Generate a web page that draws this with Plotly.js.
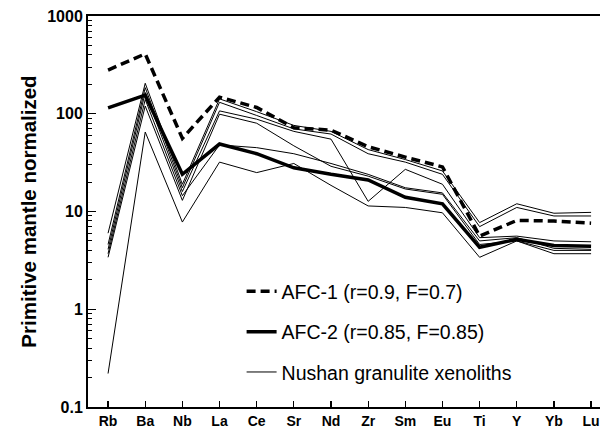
<!DOCTYPE html>
<html><head><meta charset="utf-8">
<script src="https://cdn.plot.ly/plotly-3.0.1.min.js"></script>
<style>html,body{margin:0;padding:0;background:#fff}#chart{width:606px;height:436px}</style>
</head><body><div id="chart"></div>
<script>
const elements = ["Rb","Ba","Nb","La","Ce","Sr","Nd","Zr","Sm","Eu","Ti","Y","Yb","Lu"];
const afc1 = [280, 410, 56, 148, 116, 72, 68, 46, 36, 28.6, 5.6, 8.1, 8.0, 7.6];
const afc2 = [115, 155, 24, 49, 39, 28, 24, 21, 14, 12, 4.3, 5.2, 4.5, 4.4];
const xen1 = [6.0, 205, 19, 142, 105, 76, 66, 43, 34, 26, 7.7, 12, 9.6, 9.8];
const xen2 = [4.6, 185, 17.5, 131, 96, 70, 62, 39, 32, 24, 7.0, 11, 9.0, 9.0];
const xen3 = [4.1, 165, 16, 107, 88, 66, 55, 12.7, 27, 19, 5.4, 5.6, 5.0, 4.9];
const xen4 = [3.7, 140, 14.5, 48, 45, 39, 31, 24, 17.5, 15.5, 5.0, 5.4, 4.2, 4.1];
const xen5 = [3.4, 120, 13, 99, 80, 47, 29, 23, 17, 15, 4.6, 5.0, 4.0, 4.0];
const xen6 = [0.22, 65, 7.8, 32, 25, 31, 18.5, 11.4, 11, 9.7, 3.4, 5.0, 3.7, 3.7];
const xenoliths = [xen1, xen2, xen3, xen4, xen5, xen6];
const yTickVals = [0.1, 1, 10, 100, 1000];
const yTickText = ["0.1", "1", "10", "100", "1000"];

const xIdx = elements.map((_, i) => i);
const traces = [];
xenoliths.forEach((s, k) => {
  traces.push({x: xIdx, y: s, type: 'scatter', mode: 'lines',
    line: {color: '#000', width: 1}, name: 'Nushan granulite xenoliths',
    legendgroup: 'xen', showlegend: k === 0, legendrank: 3});
});
traces.push({x: xIdx, y: afc2, type: 'scatter', mode: 'lines',
  line: {color: '#000', width: 3.5}, name: 'AFC-2 (r=0.85, F=0.85)',
  legendgroup: 'a2', legendrank: 2});
traces.push({x: xIdx, y: afc1, type: 'scatter', mode: 'lines',
  line: {color: '#000', width: 3.5, dash: '9px,5px'}, name: 'AFC-1 (r=0.9, F=0.7)',
  legendgroup: 'a1', legendrank: 1});

const minorVals = [];
[0.1, 1, 10, 100].forEach(d => { for (let m = 2; m <= 9; m++) minorVals.push(d * m); });

const layout = {
  width: 606, height: 436,
  margin: {l: 88, r: 6, t: 16, b: 29},
  paper_bgcolor: '#fff', plot_bgcolor: '#fff',
  font: {family: 'Liberation Sans, Arial, sans-serif', color: '#000'},
  showlegend: true,
  legend: {x: 0.30, y: 0.345, xanchor: 'left', yanchor: 'top',
    bgcolor: 'rgba(0,0,0,0)', font: {size: 19.5, family: 'Liberation Sans, Arial, sans-serif'},
    tracegroupgap: 12, traceorder: 'grouped'},
  xaxis: {
    range: [-0.54, 13.24], tickmode: 'array', tickvals: xIdx, ticktext: elements,
    showline: true, linewidth: 2, linecolor: '#000', mirror: true,
    ticks: 'inside', ticklen: 6, tickwidth: 1.2, tickcolor: '#000',
    showgrid: false, zeroline: false,
    tickfont: {size: 14, family: 'Liberation Sans, Arial, sans-serif', weight: 'bold'}
  },
  yaxis: {
    type: 'log', range: [-1, 3], tickmode: 'array', tickvals: yTickVals, ticktext: yTickText,
    showline: true, linewidth: 2, linecolor: '#000',
    ticks: 'inside', ticklen: 8, tickwidth: 1.2, tickcolor: '#000',
    showgrid: false, zeroline: false,
    minor: {tickmode: 'array', tickvals: minorVals, ticks: 'inside', ticklen: 4, tickwidth: 1, tickcolor: '#000', showgrid: false},
    tickfont: {size: 16, family: 'Liberation Sans, Arial, sans-serif', weight: 'bold'},
    title: {text: 'Primitive mantle normalized', standoff: 5,
      font: {size: 20.5, family: 'Liberation Sans, Arial, sans-serif', weight: 'bold'}}
  }
};
Plotly.newPlot('chart', traces, layout, {displayModeBar: false, staticPlot: true});
</script></body></html>
